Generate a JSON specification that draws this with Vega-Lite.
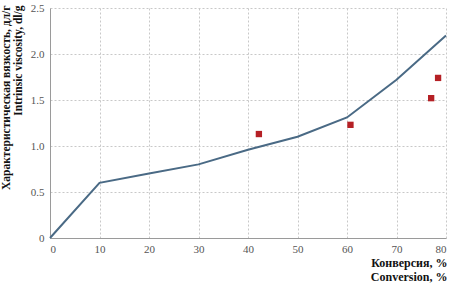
{
  "$schema": "https://vega.github.io/schema/vega-lite/v6.json",
  "autosize": "none",
  "padding": {"left": 50, "top": 8, "right": 8, "bottom": 48},
  "width": 396,
  "height": 230,
  "background": "white",
  "config": {
    "view": {"stroke": null},
    "axis": {
      "labelFont": "Liberation Serif",
      "titleFont": "Liberation Serif",
      "labelColor": "#555",
      "titleColor": "#111",
      "domainColor": "#9a9a9a",
      "gridColor": "#c8c8c8",
      "gridDash": [2, 2],
      "ticks": false,
      "labelFontSize": 11
    }
  },
  "datasets": {
    "curve": [
      {"conversion": 0, "viscosity": 0},
      {"conversion": 10, "viscosity": 0.6},
      {"conversion": 20, "viscosity": 0.7},
      {"conversion": 30, "viscosity": 0.8},
      {"conversion": 40, "viscosity": 0.96},
      {"conversion": 50, "viscosity": 1.1},
      {"conversion": 60, "viscosity": 1.31},
      {"conversion": 70, "viscosity": 1.72},
      {"conversion": 80, "viscosity": 2.2}
    ],
    "points": [
      {"conversion": 42.2, "viscosity": 1.13},
      {"conversion": 60.7, "viscosity": 1.23},
      {"conversion": 77.0, "viscosity": 1.52},
      {"conversion": 78.4, "viscosity": 1.74}
    ]
  },
  "layer": [
    {
      "data": {"name": "curve"},
      "mark": {"type": "line", "color": "#4a6a85", "strokeWidth": 2},
      "encoding": {
        "x": {
          "field": "conversion", "type": "quantitative",
          "scale": {"domain": [0, 80], "nice": false},
          "axis": {
            "values": [0, 10, 20, 30, 40, 50, 60, 70, 80],
            "labelFont": "Liberation Serif",
            "labelPadding": 5,
            "title": ["Конверсия, %", "Conversion, %"],
            "titleFontSize": 12,
            "titleFontWeight": "bold",
            "titleAnchor": "end",
            "titleAlign": "right",
            "titleBaseline": "top",
            "titleX": 397,
            "titleY": 19,
            "titleLineHeight": 14
          }
        },
        "y": {
          "field": "viscosity", "type": "quantitative",
          "scale": {"domain": [0, 2.5], "nice": false},
          "axis": {
            "values": [0, 0.5, 1, 1.5, 2, 2.5],
            "labelExpr": "datum.value == 0 ? '0' : format(datum.value, '.1f')",
            "labelFont": "Liberation Serif",
            "labelPadding": 6,
            "title": ["Характеристическая вязкость, дл/г", "Intrinsic viscosity, dl/g"],
            "titleFontSize": 11.5,
            "titleFontWeight": "bold",
            "titleAngle": -90,
            "titleAnchor": "end",
            "titleAlign": "right",
            "titleBaseline": "top",
            "titleX": -50,
            "titleY": -3,
            "titleLineHeight": 12
          }
        }
      }
    },
    {
      "data": {"name": "points"},
      "mark": {"type": "square", "color": "#b52025", "opacity": 1, "size": 40},
      "encoding": {
        "x": {"field": "conversion", "type": "quantitative"},
        "y": {"field": "viscosity", "type": "quantitative"}
      }
    }
  ]
}
